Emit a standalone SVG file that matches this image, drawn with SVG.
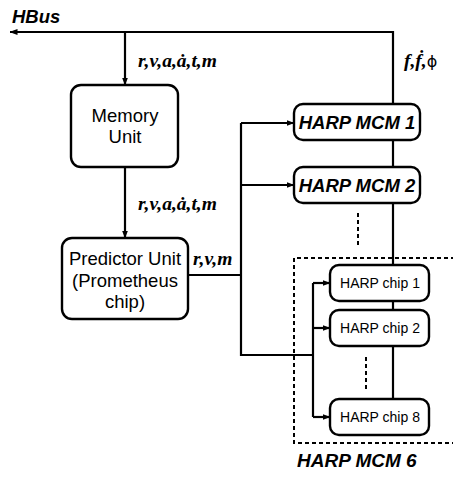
<svg xmlns="http://www.w3.org/2000/svg" width="453" height="478" viewBox="0 0 453 478">
<style>
.box{fill:#fff;stroke:#000;stroke-width:2.4}
.ln{fill:none;stroke:#000;stroke-width:2.2}
.dash{fill:none;stroke:#000;stroke-width:2;stroke-dasharray:4 3}
.sans{font-family:"Liberation Sans",Arial,sans-serif;fill:#000}
.bi{font-family:"Liberation Sans",Arial,sans-serif;font-weight:bold;font-style:italic;fill:#000}
.math{font-family:"Liberation Serif","Times New Roman",serif;font-weight:bold;font-style:italic;font-size:19.5px;fill:#000}
</style>
<defs>
<marker id="ah" markerWidth="8" markerHeight="6" refX="7.5" refY="3" orient="auto" markerUnits="userSpaceOnUse">
<path d="M0,0 L8,3 L0,6 Z" fill="#000"/>
</marker>
</defs>
<g id="connectors">
<path class="ln" d="M393,104 V32 H10" marker-end="url(#ah)"/>
<path class="ln" d="M125,32 V85" marker-end="url(#ah)"/>
<path class="ln" d="M125,167 V238" marker-end="url(#ah)"/>
<path class="ln" d="M188,275 H241"/>
<path class="ln" d="M241,123 V355 H313"/>
<path class="ln" d="M241,123 H294" marker-end="url(#ah)"/>
<path class="ln" d="M241,185 H294" marker-end="url(#ah)"/>
<path class="ln" d="M393,140 V167"/>
<path class="ln" d="M393,203 V265"/>
<path class="ln" d="M393,301 V310"/>
<path class="ln" d="M393,346 V399"/>
<path class="ln" d="M313,283 V417"/>
<path class="ln" d="M313,283 H330" marker-end="url(#ah)"/>
<path class="ln" d="M313,328 H330" marker-end="url(#ah)"/>
<path class="ln" d="M313,417 H330" marker-end="url(#ah)"/>
<path class="dash" d="M358,213 V247" stroke-dasharray="3 3"/>
<path class="dash" d="M366,357 V392" stroke-dasharray="3 3"/>
<text class="bi" x="12" y="23" font-size="18.5">HBus</text>
<text class="math" x="138" y="67">r,v,a,ȧ,t,m</text>
<text class="math" x="138" y="210">r,v,a,ȧ,t,m</text>
<text class="math" x="193" y="265">r,v,m</text>
<text class="math" x="404" y="67">f,ḟ,<tspan font-style="normal" font-weight="normal" font-family="'DejaVu Sans',sans-serif" font-size="16">ϕ</tspan></text>
</g>
<g id="memory">
<rect class="box" x="71" y="85" width="107" height="82" rx="10"/>
<text class="sans" x="125" y="122" font-size="18.5" text-anchor="middle">Memory</text>
<text class="sans" x="125" y="143" font-size="18.5" text-anchor="middle">Unit</text>
</g>
<g id="predictor">
<rect class="box" x="62" y="238" width="126" height="81" rx="10"/>
<text class="sans" x="125" y="265" font-size="18.5" text-anchor="middle">Predictor Unit</text>
<text class="sans" x="125" y="287" font-size="18.5" text-anchor="middle">(Prometheus</text>
<text class="sans" x="125" y="308" font-size="18.5" text-anchor="middle">chip)</text>
</g>
<g id="mcm1">
<rect class="box" x="294" y="104" width="126" height="36" rx="9"/>
<text class="bi" x="357" y="129" font-size="18.5" text-anchor="middle">HARP MCM 1</text>
</g>
<g id="mcm2">
<rect class="box" x="294" y="167" width="126" height="36" rx="9"/>
<text class="bi" x="357" y="192" font-size="18.5" text-anchor="middle">HARP MCM 2</text>
</g>
<g id="mcm6">
<path class="dash" d="M455,258 H294 V443 H455"/>
<text class="bi" x="297" y="467" font-size="19">HARP MCM 6</text>
</g>
<g id="chip1">
<rect class="box" x="330" y="265" width="99" height="36" rx="9"/>
<text class="sans" x="380" y="288" font-size="14" text-anchor="middle">HARP chip 1</text>
</g>
<g id="chip2">
<rect class="box" x="330" y="310" width="99" height="36" rx="9"/>
<text class="sans" x="380" y="333" font-size="14" text-anchor="middle">HARP chip 2</text>
</g>
<g id="chip8">
<rect class="box" x="330" y="399" width="99" height="36" rx="9"/>
<text class="sans" x="380" y="422" font-size="14" text-anchor="middle">HARP chip 8</text>
</g>
</svg>
